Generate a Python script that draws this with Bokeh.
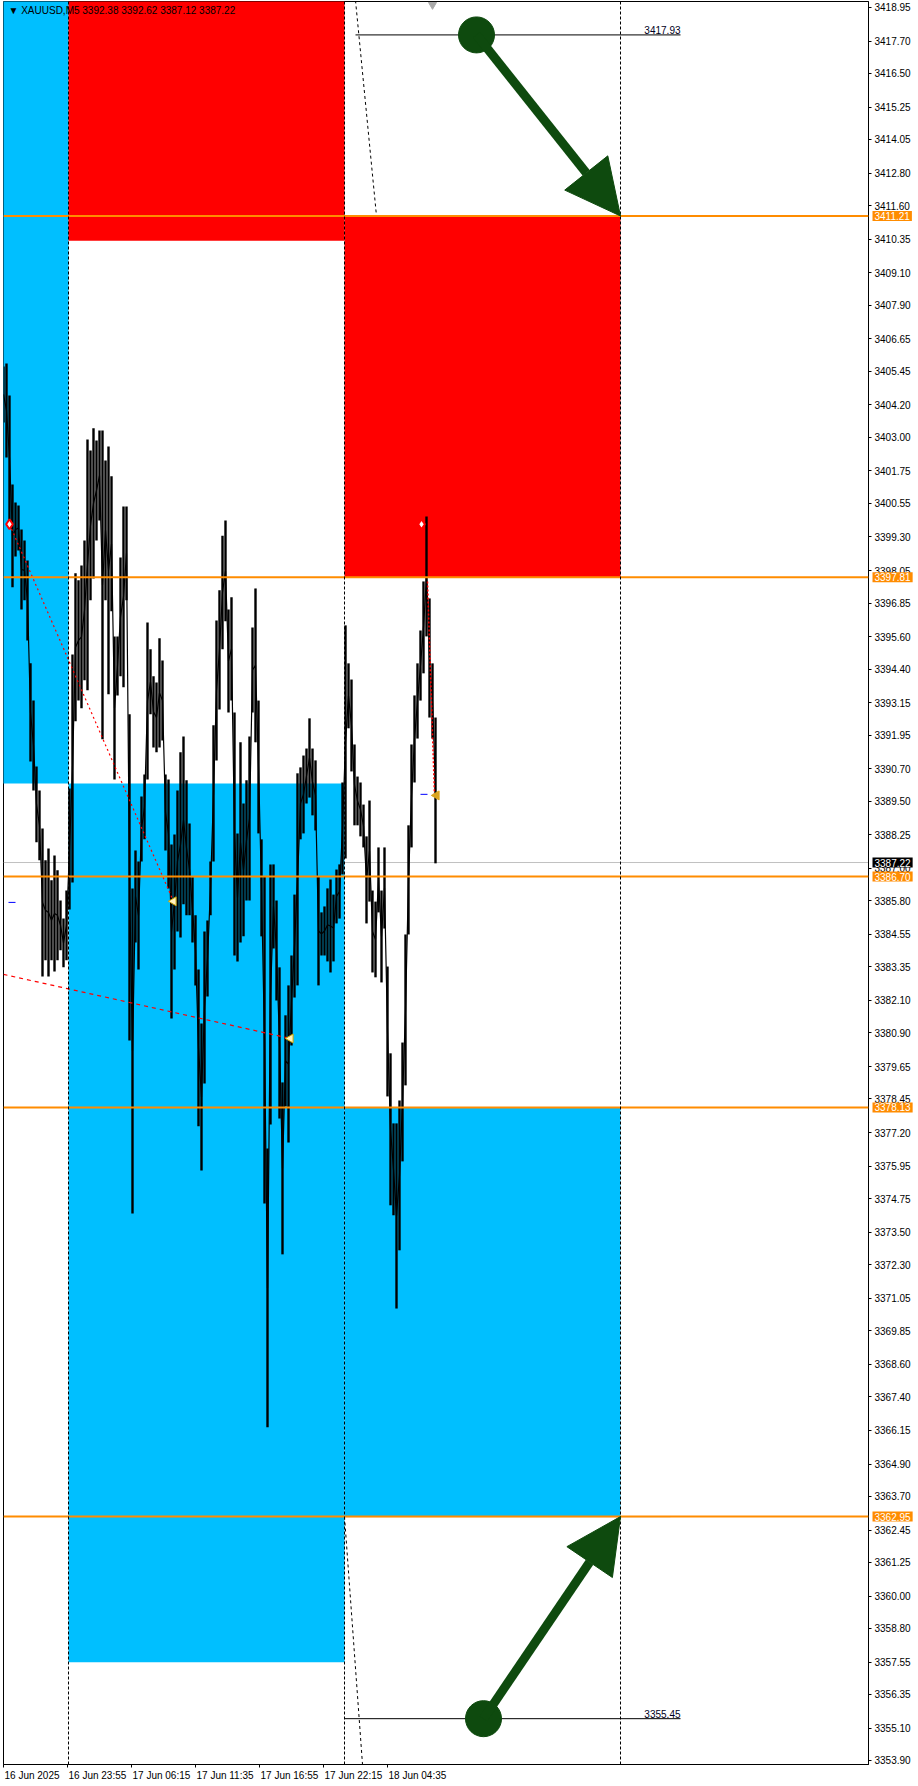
from bokeh.plotting import figure
from bokeh.models import Range1d, FixedTicker, Span, Label, Arrow, NormalHead, NumeralTickFormatter
from bokeh.embed import file_html
from bokeh.resources import INLINE

# ---------------- data ----------------
symbol = "XAUUSD,M5"
ohlc_last = ["3392.38", "3392.62", "3387.12", "3387.22"]

# price bars (every 3rd M5 bar), high / low
highs = [3405.63, 3405.74, 3404.55, 3401.25, 3400.58, 3400.47, 3399.58, 3399.17, 3398.43, 3394.61,
         3393.23, 3390.78, 3389.89, 3388.48, 3387.30, 3387.74, 3386.56, 3387.48, 3386.93, 3385.81,
         3385.14, 3386.18, 3389.97, 3394.94, 3397.95, 3397.69, 3398.24, 3399.17, 3402.92, 3402.51,
         3403.33, 3402.88, 3403.25, 3403.25, 3402.14, 3402.66, 3401.55, 3395.61, 3395.61, 3398.54,
         3400.43, 3400.43, 3392.72, 3386.26, 3387.67, 3387.26, 3389.67, 3390.49, 3396.13, 3395.13,
         3394.13, 3393.90, 3395.54, 3394.72, 3390.49, 3390.30, 3387.89, 3388.26, 3389.89, 3391.31,
         3391.90, 3390.27, 3388.67, 3386.67, 3385.26, 3383.25, 3381.25, 3384.66, 3385.07, 3387.26,
         3392.31, 3396.20, 3397.32, 3399.35, 3399.91, 3396.61, 3397.06, 3392.79, 3388.30, 3391.68,
         3389.41, 3390.27, 3391.90, 3395.94, 3397.39, 3393.23, 3388.08, 3386.70, 3376.61, 3387.15,
         3387.15, 3385.81, 3383.33, 3379.06, 3381.55, 3382.66, 3383.77, 3386.03, 3390.53, 3390.75,
         3391.19, 3391.45, 3392.57, 3391.45, 3391.01, 3386.70, 3385.37, 3385.59, 3386.26, 3386.59,
         3386.03, 3386.96, 3387.15, 3390.19, 3396.02, 3394.61, 3394.01, 3391.60, 3390.41, 3390.19,
         3389.37, 3388.19, 3389.52, 3386.18, 3385.77, 3387.78, 3386.18, 3387.78, 3383.36, 3380.14,
         3377.54, 3377.54, 3378.39, 3380.54, 3384.55, 3388.60, 3391.60, 3393.42, 3394.61, 3395.83,
         3397.65, 3400.06, 3397.02, 3394.61, 3392.60]
lows = [3403.55, 3402.25, 3399.91, 3397.43, 3398.58, 3398.80, 3396.61, 3396.95, 3395.46, 3390.97,
        3389.89, 3387.97, 3387.30, 3382.99, 3383.59, 3382.99, 3383.59, 3383.18, 3383.59, 3383.96,
        3383.33, 3383.59, 3385.48, 3386.48, 3392.46, 3393.23, 3392.94, 3393.98, 3393.61, 3396.95,
        3397.76, 3399.17, 3399.91, 3391.79, 3396.95, 3393.46, 3396.54, 3390.30, 3393.42, 3394.13,
        3393.72, 3396.95, 3380.62, 3374.20, 3384.25, 3383.25, 3387.26, 3388.08, 3390.30, 3392.72,
        3391.49, 3391.31, 3391.49, 3391.75, 3387.67, 3386.26, 3381.43, 3383.25, 3384.66, 3384.44,
        3385.67, 3385.26, 3385.26, 3384.25, 3382.66, 3377.43, 3375.79, 3379.02, 3382.25, 3385.26,
        3387.26, 3391.01, 3392.90, 3395.13, 3396.17, 3392.79, 3393.23, 3383.77, 3383.55, 3384.25,
        3384.48, 3385.81, 3385.81, 3392.79, 3391.68, 3388.30, 3384.48, 3374.57, 3366.26, 3377.50,
        3384.03, 3382.10, 3377.72, 3372.68, 3378.17, 3376.83, 3380.43, 3382.21, 3382.66, 3388.08,
        3388.30, 3389.41, 3389.63, 3388.97, 3388.41, 3382.66, 3383.77, 3383.77, 3383.55, 3383.14,
        3383.55, 3384.96, 3385.14, 3386.78, 3387.37, 3392.20, 3390.60, 3388.60, 3388.60, 3388.19,
        3387.78, 3384.96, 3385.77, 3383.14, 3382.96, 3385.37, 3382.77, 3384.77, 3378.54, 3374.50,
        3374.13, 3370.67, 3372.83, 3376.13, 3378.95, 3384.55, 3387.78, 3390.19, 3391.82, 3393.23,
        3394.24, 3395.61, 3392.60, 3391.82, 3387.19]
bar_step = 3
bar_index = [k * bar_step for k in range(len(highs))]
bar_mid = [(h + l) / 2 for h, l in zip(highs, lows)]

# time axis (bar numbers) and labels
x_ticks = [0, 64, 128, 192, 256, 320, 384]
x_labels = ["16 Jun 2025", "16 Jun 23:55", "17 Jun 06:15", "17 Jun 11:35",
            "17 Jun 16:55", "17 Jun 22:15", "18 Jun 04:35"]
day_starts = [65, 341, 617]

# price axis ticks
y_ticks = [3418.95, 3417.70, 3416.50, 3415.25, 3414.05, 3412.80, 3411.60, 3410.35, 3409.10,
           3407.90, 3406.65, 3405.45, 3404.20, 3403.00, 3401.75, 3400.55, 3399.30, 3398.05,
           3396.85, 3395.60, 3394.40, 3393.15, 3391.95, 3390.70, 3389.50, 3388.25, 3387.00,
           3385.80, 3384.55, 3383.35, 3382.10, 3380.90, 3379.65, 3378.45, 3377.20, 3375.95,
           3374.75, 3373.50, 3372.30, 3371.05, 3369.85, 3368.60, 3367.40, 3366.15, 3364.90,
           3363.70, 3362.45, 3361.25, 3360.00, 3358.80, 3357.55, 3356.35, 3355.10, 3353.90]

# supply / demand zones
zone_left = [-10, 65, 65, 341, 341]
zone_right = [65, 341, 341, 617, 617]
zone_top = [3425.0, 3425.0, 3390.15, 3411.21, 3378.13]
zone_bottom = [3390.15, 3410.29, 3357.54, 3397.81, 3362.95]
zone_color = ["#00BFFF", "#FF0000", "#00BFFF", "#FF0000", "#00BFFF"]

# horizontal levels
level_prices = [3411.21, 3397.81, 3386.70, 3378.13, 3362.95]
current_price = 3387.22

# targets
target_prices = [3417.93, 3355.45]
target_start = [352, 341]
target_end = [677, 677]
arrow_tail_x = [473, 480]
arrow_head_x = [617, 617]
arrow_head_price = [3411.21, 3362.95]
extra_black_x0 = [617, 341]
extra_black_x1 = [677, 667]
extra_black_price = [3411.21, 3362.95]

# dashed guide lines
guide1_x = [352, 373]
guide1_y = [3419.21, 3411.21]
guide2_x = [341, 359]
guide2_y = [3362.95, 3353.75]

# signal lines / markers
sig1_x, sig1_y = [6, 170], [3399.77, 3385.78]
sig2_x, sig2_y = [0, 287], [3383.07, 3380.69]
sig3_x, sig3_y = [424, 431], [3397.65, 3389.71]
diamond_x, diamond_y = [6, 418], [3399.77, 3399.77]
tri_x, tri_y = [170, 287], [3385.78, 3380.69]
gold_x, gold_y = [433], [3389.71]
dash_x0, dash_x1, dash_y = [5, 417], [12, 424], [3385.74, 3389.75]

# ---------------- figure ----------------
FONT = "Liberation Sans"
X_START, X_END = 0, 865
Y_START, Y_END = 3353.75, 3419.17
HIDDEN_TOP = 260   # the "above" panel only holds the out-of-frame labels; it sits above the page
p = figure(width=918, height=1786 + HIDDEN_TOP,
           x_range=Range1d(X_START, X_END), y_range=Range1d(Y_START, Y_END),
           output_backend="svg", toolbar_location=None, y_axis_location="right",
           min_border_left=3, min_border_top=HIDDEN_TOP + 1, min_border_right=50,
           min_border_bottom=22)
p.styles = {"margin-top": f"-{HIDDEN_TOP}px"}
p.background_fill_color = "white"
p.border_fill_color = "white"
p.outline_line_color = "black"
p.outline_line_width = 1
p.grid.visible = False

# zones
p.quad(left=zone_left, right=zone_right, top=zone_top, bottom=zone_bottom,
       fill_color=zone_color, line_color=None)

# current price line
p.add_layout(Span(location=current_price, dimension="width", line_color="#C0C0C0", line_width=1,
                  level="underlay"))

# bars
p.vbar(x=bar_index, width=2.4, top=highs, bottom=lows, fill_color="black", line_color=None)
p.line(bar_index, bar_mid, line_color="black", line_width=1.2)

# signal lines
p.line(sig1_x, sig1_y, line_color="red", line_width=1.2, line_dash="2 3")
p.line(sig2_x, sig2_y, line_color="red", line_width=1.2, line_dash="4 4")
p.line(sig3_x, sig3_y, line_color="red", line_width=1.5, line_dash="2 2")

# orange levels
for lv in level_prices:
    p.add_layout(Span(location=lv, dimension="width", line_color="#FF8C00", line_width=2))

# day separators
for d in day_starts:
    p.add_layout(Span(location=d, dimension="height", line_color="black", line_width=1,
                      line_dash="3 2"))

# target lines
p.segment(x0=target_start, x1=target_end, y0=target_prices, y1=target_prices,
          line_color="black", line_width=1)
p.segment(x0=extra_black_x0, x1=extra_black_x1, y0=extra_black_price, y1=extra_black_price,
          line_color="#202020", line_width=1)
p.line(guide1_x, guide1_y, line_color="black", line_width=1, line_dash="3 3")
p.line(guide2_x, guide2_y, line_color="black", line_width=1, line_dash="3 3")

for tx, tp in zip(target_end, target_prices):
    p.add_layout(Label(x=tx, y=tp, text=f"{tp:.2f}", text_align="right", text_baseline="bottom",
                       text_font=FONT, text_font_size="10px", text_color="#000022", y_offset=1))

# markers
p.scatter(diamond_x, diamond_y, marker="diamond", size=10, fill_color="white", line_color="red",
          line_width=2)
p.scatter(tri_x, tri_y, marker="triangle", angle=1.5708, size=9, fill_color="#FFF4C0",
          line_color="#C8A000", line_width=1)
p.scatter(gold_x, gold_y, marker="triangle", angle=1.5708, size=9, fill_color="#DAA520",
          line_color="#DAA520")
p.segment(x0=dash_x0, x1=dash_x1, y0=dash_y, y1=dash_y, line_color="blue", line_width=1)
p.scatter([429], [3419.05], marker="inverted_triangle", size=8, fill_color="#A9A9A9",
          line_color="#A9A9A9")

# arrows
GREEN = "#0E4A0E"
for x0, y0, x1, y1 in zip(arrow_tail_x, target_prices, arrow_head_x, arrow_head_price):
    p.add_layout(Arrow(end=NormalHead(size=55, fill_color=GREEN, line_color=GREEN, line_width=1),
                       x_start=x0, y_start=y0, x_end=x1, y_end=y1,
                       line_color=GREEN, line_width=9))
p.scatter(arrow_tail_x, target_prices, size=36, fill_color=GREEN, line_color=GREEN)

# header
p.add_layout(Label(x=5, y=3418.85, text="\u25bc  " + symbol + "  " + " ".join(ohlc_last),
                   text_font=FONT, text_font_size="10px", text_color="black",
                   text_baseline="middle", text_align="left"))

# axes
xa = p.xaxis[0]
xa.ticker = FixedTicker(ticks=x_ticks)
xa.major_label_overrides = {t: "" for t in x_ticks}
xa.major_label_text_font_size = "10px"
xa.major_label_standoff = 1
xa.major_tick_out = 3
xa.major_tick_in = 0
xa.minor_tick_line_color = None
xa.axis_line_color = "black"

ya = p.yaxis[0]
ya.ticker = FixedTicker(ticks=y_ticks)
ya.formatter = NumeralTickFormatter(format="0.00")
ya.major_label_text_font = FONT
ya.major_label_text_font_size = "10px"
ya.major_label_text_color = "black"
ya.major_label_standoff = 3
ya.major_tick_out = 3
ya.major_tick_in = 0
ya.minor_tick_line_color = None
ya.axis_line_color = "black"

# Labels outside the frame live in the (hidden) top panel so that they are not clipped;
# their positions still come from the data scales.
for t, lab in zip(x_ticks, x_labels):
    p.add_layout(Label(x=t, y=Y_START, text=lab, x_offset=1, y_offset=-5, text_align="left",
                       text_baseline="top", text_font=FONT, text_font_size="10px",
                       text_color="black"), "above")

for lv in level_prices:
    p.add_layout(Label(x=X_END, y=lv, text=f"{lv:.2f}", x_offset=4, text_align="left",
                       text_baseline="middle", text_font=FONT, text_font_size="10px",
                       text_color="white", background_fill_color="#FF8C00", padding=[2, 1]),
                 "above")
p.add_layout(Label(x=X_END, y=current_price, text=f"{current_price:.2f}", x_offset=4,
                   text_align="left", text_baseline="middle", text_font=FONT,
                   text_font_size="10px", text_color="white", background_fill_color="black",
                   padding=[2, 1]), "above")

open("out.html", "w").write(file_html(p, INLINE))
